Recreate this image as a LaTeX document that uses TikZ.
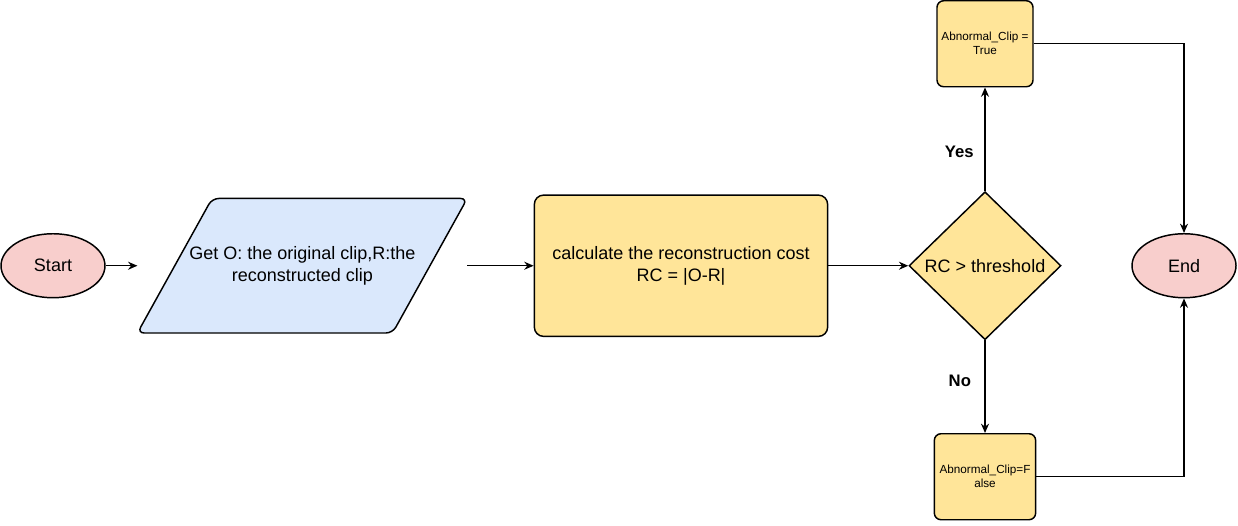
\documentclass[tikz,border=0pt]{standalone}
\usepackage{fontspec}
\setmainfont{Liberation Sans}
\usetikzlibrary{shapes.geometric,arrows.meta,positioning,backgrounds}

\definecolor{startPink}{HTML}{F8CECC}
\definecolor{inputBlue}{HTML}{DAE8FC}
\definecolor{stepYellow}{HTML}{FFE599}

\tikzstyle{terminal} = [ellipse, draw, fill=startPink, line width=1.1pt, minimum width=78pt, minimum height=48pt, font={\fontsize{13.5}{16.5}\selectfont}]
\tikzstyle{inputBox} = [rectangle, minimum width=247pt, minimum height=100.5pt, align=center, font={\fontsize{13.5}{16.5}\selectfont}]
\tikzstyle{inputShape} = [draw, fill=inputBlue, line width=1.1pt, rounded corners=5pt]
\tikzstyle{process} = [rectangle, draw, fill=stepYellow, line width=1.1pt, rounded corners=7pt, minimum width=220pt, minimum height=106pt, align=center, font={\fontsize{13.5}{16.5}\selectfont}]
\tikzstyle{decision} = [diamond, draw, fill=stepYellow, line width=1.1pt, aspect=1, inner sep=0pt, minimum width=114pt, minimum height=111pt, font={\fontsize{13.5}{16.5}\selectfont}]
\tikzstyle{flagBox} = [rectangle, draw, fill=stepYellow, line width=1.1pt, rounded corners=5pt, minimum width=72pt, minimum height=64.5pt, inner sep=1pt, align=center, font={\fontsize{8.8}{10.5}\selectfont}]
\tikzstyle{branchLabel} = [font={\bfseries\fontsize{12.5}{15}\selectfont}, inner sep=0pt]
\tikzstyle{flow} = [-{Stealth[length=7pt,width=6pt]}, line width=1.1pt]

\begin{document}
\begin{tikzpicture}
            \node[terminal] (Start) {Start};
            \node[inputBox, right of=Start, node distance=187pt] (Get) {Get O: the original clip,R:the\\reconstructed clip};
            \node[process, right of=Get, node distance=284pt] (Calc) {calculate the reconstruction cost\\RC = |O-R|};
            \node[decision, right of=Calc, node distance=228pt] (Dec) {RC > threshold};
            \node[flagBox, above of=Dec, node distance=166.5pt] (AbTrue) {Abnormal\_Clip =\\True};
            \node[flagBox, below of=Dec, node distance=156.75pt, minimum width=76pt, yshift=-1.5pt] (AbFalse) {Abnormal\_Clip=F\\alse};
            \node[terminal, right of=Dec, node distance=149.25pt] (End) {End};

            % parallelogram behind the input text
            \begin{scope}[on background layer]
                \draw[inputShape] ([xshift=56pt]Get.north west) -- (Get.north east) -- ([xshift=-56pt]Get.south east) -- (Get.south west) -- cycle;
            \end{scope}

            \draw[flow] (Start) -- (Get);
            \draw[flow] (Get) -- (Calc);
            \draw[flow] (Calc) -- (Dec);
            \draw[flow] (Dec) -- node[branchLabel, pos=0.38, left=8pt] {Yes} (AbTrue);
            \draw[flow] (Dec) -- node[branchLabel, pos=0.44, left=10pt] {No} (AbFalse);
            \draw[flow] (AbTrue) -| (End);
            \draw[flow] (AbFalse) -| (End);

            \useasboundingbox ([xshift=-39.75pt,yshift=198.75pt]Start.center) rectangle ([xshift=888.75pt,yshift=-195pt]Start.center);
        \end{tikzpicture}
\end{document}
